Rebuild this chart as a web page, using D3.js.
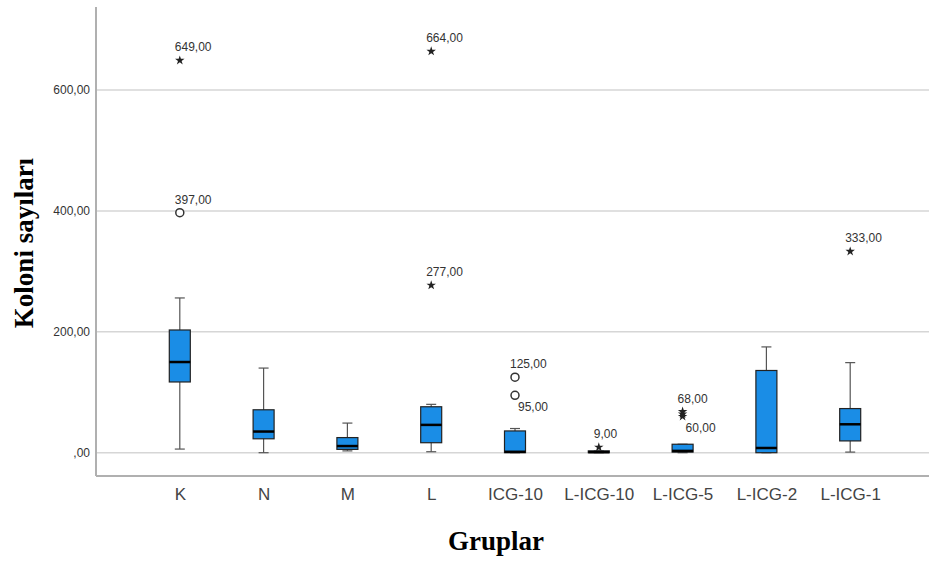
<!DOCTYPE html>
<html>
<head>
<meta charset="utf-8">
<script src="https://cdn.jsdelivr.net/npm/d3@7"></script>
<style>
  body{margin:0;background:#fff;}
  svg{display:block;}
</style>
</head>
<body>
<div id="chart"></div>
<script>
var svgW=929,svgH=562;

// groups and box statistics
var categories=["K","N","M","L","ICG-10","L-ICG-10","L-ICG-5","L-ICG-2","L-ICG-1"];
var whiskerLow =[6,   0,  3,  1.6, 0,  0, 0,  0,   1];
var q1         =[117, 23, 5.5,16.5,0,  0, 1,  0,   19.5];
var median     =[150, 35, 11, 46,  1.5,1, 3,  7.8, 47];
var q3         =[203, 71, 25, 76,  36, 3, 14, 136, 73];
var whiskerHigh=[256, 140,49, 80,  40, 3, 14, 175, 149];

// outliers: o = circle, * = extreme
var outlierGroup=["K","K","L","L","ICG-10","ICG-10","L-ICG-10","L-ICG-5","L-ICG-5","L-ICG-5","L-ICG-1"];
var outlierValue=[649,397,664,277,125,95,9,68,64,60,333];
var outlierType =["*","o","*","*","o","o","*","*","*","*","*"];
var outlierShown=[true,true,true,true,true,true,true,true,false,true,true];

var yTicks=[0,200,400,600];

var axisLeft=96,axisTop=7,axisBottom=476;
var boxfill="#1a8de6",gridcolor="#d6d6d6",textcolor="#333";

var svg=d3.select("#chart").append("svg")
    .attr("width",svgW)
    .attr("height",svgH);

var x=d3.scalePoint()
    .domain(categories)
    .range([axisLeft,934])
    .padding(1);

var y=d3.scaleLinear()
    .domain([0,600])
    .range([452.7,90]);

var fmt=function(v){
    if(v==0) return ",00";
    return v.toFixed(2).replace(".",",");
};

// grid lines
svg.append("g").selectAll("line")
    .data(yTicks)
    .enter().append("line")
    .attr("x1",axisLeft).attr("x2",svgW)
    .attr("y1",function(d){return y(d);})
    .attr("y2",function(d){return y(d);})
    .attr("stroke",gridcolor)
    .attr("stroke-width",1.5);

// y axis (labels only, line drawn below)
var yAxis=svg.append("g")
    .attr("transform","translate("+axisLeft+",0)")
    .call(d3.axisLeft(y).tickValues(yTicks).tickFormat(fmt).tickSize(0).tickPadding(6));
yAxis.select(".domain").remove();
yAxis.selectAll("text")
    .style("font-family","Arial, 'Liberation Sans', sans-serif")
    .style("font-size","12px")
    .attr("fill",textcolor);

// x axis labels
var xAxis=svg.append("g")
    .attr("transform","translate(0,"+axisBottom+")")
    .call(d3.axisBottom(x).tickSize(0).tickPadding(12));
xAxis.select(".domain").remove();
xAxis.selectAll("text")
    .style("font-family","Arial, 'Liberation Sans', sans-serif")
    .style("font-size","17px")
    .attr("fill","#444");

// frame lines
svg.append("line")
    .attr("x1",axisLeft).attr("x2",axisLeft)
    .attr("y1",axisTop).attr("y2",axisBottom)
    .attr("stroke","#b0b0b0").attr("stroke-width",2);
svg.append("line")
    .attr("x1",axisLeft).attr("x2",svgW)
    .attr("y1",axisBottom).attr("y2",axisBottom)
    .attr("stroke","#b0b0b0").attr("stroke-width",2);

// boxes
var boxW=21,capW=10;
var boxg=svg.append("g").selectAll("g")
    .data(categories)
    .enter().append("g")
    .attr("transform",function(d){return "translate("+x(d)+",0)";});

boxg.append("line")
    .attr("x1",0).attr("x2",0)
    .attr("y1",function(d,i){return y(whiskerHigh[i]);})
    .attr("y2",function(d,i){return y(whiskerLow[i]);})
    .attr("stroke","#555").attr("stroke-width",1.2);

boxg.append("line")
    .attr("x1",-capW/2).attr("x2",capW/2)
    .attr("y1",function(d,i){return y(whiskerHigh[i]);})
    .attr("y2",function(d,i){return y(whiskerHigh[i]);})
    .attr("stroke","#555").attr("stroke-width",1.2);

boxg.append("line")
    .attr("x1",-capW/2).attr("x2",capW/2)
    .attr("y1",function(d,i){return y(whiskerLow[i]);})
    .attr("y2",function(d,i){return y(whiskerLow[i]);})
    .attr("stroke","#555").attr("stroke-width",1.2);

boxg.append("rect")
    .attr("x",-boxW/2)
    .attr("width",boxW)
    .attr("y",function(d,i){return y(q3[i]);})
    .attr("height",function(d,i){return Math.max(y(q1[i])-y(q3[i]),1);})
    .attr("fill",boxfill)
    .attr("stroke","#222").attr("stroke-width",1.2);

boxg.append("line")
    .attr("x1",-boxW/2).attr("x2",boxW/2)
    .attr("y1",function(d,i){return y(median[i]);})
    .attr("y2",function(d,i){return y(median[i]);})
    .attr("stroke","#000").attr("stroke-width",2.5);

// outliers
var star=d3.symbol().type(d3.symbolStar).size(28);
var outg=svg.append("g").selectAll("g")
    .data(outlierValue)
    .enter().append("g")
    .attr("transform",function(d,i){return "translate("+x(outlierGroup[i])+","+y(d)+")";});

outg.each(function(d,i){
    var g=d3.select(this);
    if(outlierType[i]=="o"){
        g.append("circle").attr("r",4)
            .attr("fill","#fff").attr("stroke","#333").attr("stroke-width",1.5);
    }else{
        g.append("path").attr("d",star).attr("fill","#222");
    }
    if(!outlierShown[i]) return;
    // put the label below when another outlier of the group sits just above
    var below=false;
    for(var j=0;j<outlierValue.length;j++){
        if(j!=i && outlierGroup[j]==outlierGroup[i] && outlierValue[j]>d && outlierValue[j]-d<50) below=true;
    }
    g.append("text")
        .attr("x",below?3:-5)
        .attr("y",below?16:-9)
        .style("font-family","Arial, 'Liberation Sans', sans-serif")
        .style("font-size","12px")
        .attr("fill",textcolor)
        .text(fmt(d));
});

// axis titles
svg.append("text")
    .attr("transform","translate(33,243) rotate(-90)")
    .attr("text-anchor","middle")
    .style("font-family","'Times New Roman', 'Liberation Serif', serif")
    .style("font-weight","bold")
    .style("font-size","27px")
    .text("Koloni sayıları");

svg.append("text")
    .attr("x",496).attr("y",550)
    .attr("text-anchor","middle")
    .style("font-family","'Times New Roman', 'Liberation Serif', serif")
    .style("font-weight","bold")
    .style("font-size","27px")
    .text("Gruplar");
</script>
</body>
</html>
